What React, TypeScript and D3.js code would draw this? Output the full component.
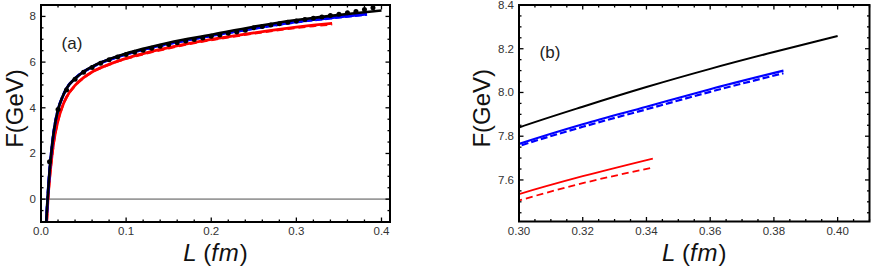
import React from 'react';
import * as d3 from 'd3';

// curves (L in fm, F in GeV)
const blackL = [0.0055, 0.006, 0.007, 0.008, 0.009, 0.01, 0.012, 0.015, 0.02, 0.025, 0.03, 0.04, 0.05, 0.06, 0.07, 0.08, 0.1, 0.12, 0.15, 0.2, 0.25, 0.3, 0.32, 0.34, 0.36, 0.38, 0.4];
const blackF = [-1.5, -1.15, -0.45, 0.15, 0.7, 1.2, 2.0, 2.95, 3.92, 4.45, 4.85, 5.28, 5.58, 5.8, 5.98, 6.13, 6.38, 6.58, 6.85, 7.2, 7.55, 7.84, 7.935, 8.025, 8.108, 8.185, 8.258];

const blueL = [0.0055, 0.006, 0.007, 0.008, 0.009, 0.01, 0.012, 0.015, 0.02, 0.025, 0.03, 0.04, 0.05, 0.06, 0.07, 0.08, 0.1, 0.12, 0.15, 0.2, 0.25, 0.3, 0.32, 0.34, 0.36, 0.383];
const blueF = [-1.5, -1.15, -0.45, 0.15, 0.7, 1.2, 2.0, 2.95, 3.92, 4.45, 4.85, 5.28, 5.58, 5.79, 5.97, 6.11, 6.35, 6.55, 6.81, 7.16, 7.48, 7.765, 7.855, 7.935, 8.015, 8.1];
const blueDashF = [-1.5, -1.15, -0.45, 0.15, 0.7, 1.2, 2.0, 2.95, 3.92, 4.45, 4.85, 5.28, 5.58, 5.785, 5.965, 6.105, 6.343, 6.543, 6.8, 7.15, 7.47, 7.755, 7.843, 7.923, 8.003, 8.088];

const redL = [0.0055, 0.006, 0.007, 0.008, 0.009, 0.01, 0.012, 0.015, 0.02, 0.025, 0.03, 0.04, 0.05, 0.06, 0.08, 0.1, 0.12, 0.15, 0.2, 0.25, 0.3, 0.32, 0.342];
const redF = [-1.9, -1.5, -0.8, -0.15, 0.4, 0.85, 1.6, 2.5, 3.45, 4.05, 4.47, 4.98, 5.32, 5.57, 5.9, 6.16, 6.37, 6.63, 6.99, 7.28, 7.535, 7.617, 7.698];
const redDashF = [-1.91, -1.51, -0.81, -0.16, 0.39, 0.84, 1.59, 2.49, 3.44, 4.04, 4.46, 4.97, 5.31, 5.56, 5.89, 6.15, 6.35, 6.61, 6.97, 7.255, 7.506, 7.585, 7.657];

// data points
const dotL = [0.01, 0.02, 0.03, 0.04, 0.05, 0.06, 0.07, 0.08, 0.09, 0.1, 0.11, 0.12, 0.13, 0.14, 0.15, 0.16, 0.17, 0.18, 0.19, 0.2, 0.21, 0.22, 0.23, 0.24, 0.25, 0.26, 0.27, 0.28, 0.29, 0.3, 0.31, 0.32, 0.33, 0.34, 0.35, 0.36, 0.37, 0.38, 0.39];
const dotF = [1.64, 3.93, 4.78, 5.25, 5.56, 5.76, 5.95, 6.1, 6.22, 6.33, 6.43, 6.52, 6.61, 6.69, 6.77, 6.85, 6.92, 6.99, 7.06, 7.13, 7.19, 7.26, 7.32, 7.39, 7.5, 7.56, 7.62, 7.68, 7.74, 7.8, 7.86, 7.92, 7.98, 8.04, 8.1, 8.16, 8.22, 8.3, 8.38];

const ticksA_x = [0, 0.1, 0.2, 0.3, 0.4];
const ticksA_y = [0, 2, 4, 6, 8];
const ticksB_x = [0.3, 0.32, 0.34, 0.36, 0.38, 0.4];
const ticksB_y = [7.6, 7.8, 8.0, 8.2, 8.4];

const FONT = "'Liberation Sans', Arial, sans-serif";

type Series = { L: number[]; F: number[]; color: string; width: number; dash?: string };

interface PanelProps {
    id: string;
    box: { left: number; right: number; top: number; bottom: number };
    xDomain: [number, number];
    yDomain: [number, number];
    xMajor: number[];
    yMajor: number[];
    xMinorStep: number;
    yMinorStep: number;
    xFmt: string;
    yFmt: string;
    series: Series[];
    dots?: { L: number[]; F: number[] };
    zeroLine?: boolean;
    tag: string;
    tagPos: [number, number];
    yLabelX: number;
}

const Panel: React.FC<PanelProps> = (p) => {
    const { left, right, top, bottom } = p.box;
    const x = d3.scaleLinear().domain(p.xDomain).range([left, right]);
    const y = d3.scaleLinear().domain(p.yDomain).range([bottom, top]);
    const xf = d3.format(p.xFmt);
    const yf = d3.format(p.yFmt);

    const minorX = d3.range(Math.ceil(p.xDomain[0] / p.xMinorStep - 1e-6), Math.floor(p.xDomain[1] / p.xMinorStep + 1e-6) + 1)
        .map(i => i * p.xMinorStep)
        .filter(v => !p.xMajor.some(m => Math.abs(m - v) < 1e-6));
    const minorY = d3.range(Math.ceil(p.yDomain[0] / p.yMinorStep - 1e-6), Math.floor(p.yDomain[1] / p.yMinorStep + 1e-6) + 1)
        .map(i => i * p.yMinorStep)
        .filter(v => !p.yMajor.some(m => Math.abs(m - v) < 1e-6));

    const line = (L: number[], F: number[]) =>
        d3.line<number>()
            .x((_, i) => x(L[i]))
            .y(d => y(d))
            .curve(d3.curveMonotoneX)(F) ?? '';

    const tickLines: React.ReactNode[] = [];
    const addX = (v: number, len: number, k: string) => {
        tickLines.push(<line key={`xb${k}`} x1={x(v)} x2={x(v)} y1={bottom} y2={bottom - len} />);
        tickLines.push(<line key={`xt${k}`} x1={x(v)} x2={x(v)} y1={top} y2={top + len} />);
    };
    const addY = (v: number, len: number, k: string) => {
        tickLines.push(<line key={`yl${k}`} x1={left} x2={left + len} y1={y(v)} y2={y(v)} />);
        tickLines.push(<line key={`yr${k}`} x1={right} x2={right - len} y1={y(v)} y2={y(v)} />);
    };
    p.xMajor.forEach((v, i) => addX(v, 4.5, `M${i}`));
    minorX.forEach((v, i) => addX(v, 2.5, `m${i}`));
    p.yMajor.forEach((v, i) => addY(v, 4.5, `M${i}`));
    minorY.forEach((v, i) => addY(v, 2.5, `m${i}`));

    const cx = (left + right) / 2;
    const cy = (top + bottom) / 2;

    return (
        <g>
            <defs>
                <clipPath id={`clip-${p.id}`}>
                    <rect x={left} y={top} width={right - left} height={bottom - top} />
                </clipPath>
            </defs>
            <g clipPath={`url(#clip-${p.id})`}>
                {p.zeroLine && (
                    <line x1={left} x2={right} y1={y(0)} y2={y(0)} stroke="#9a9a9a" strokeWidth={1.6} />
                )}
                {p.series.map((s, i) => (
                    <path key={i} d={line(s.L, s.F)} fill="none" stroke={s.color}
                        strokeWidth={s.width} strokeDasharray={s.dash} />
                ))}
                {p.dots && p.dots.L.map((l, i) => (
                    <circle key={i} cx={x(l)} cy={y(p.dots!.F[i])} r={2.5} fill="#000" />
                ))}
            </g>
            <g stroke="#000" strokeWidth={1.3}>{tickLines}</g>
            <rect x={left} y={top} width={right - left} height={bottom - top}
                fill="none" stroke="#000" strokeWidth={2} />
            <g fontFamily={FONT} fontSize={11.5} fill="#333">
                {p.xMajor.map((v, i) => (
                    <text key={i} x={x(v)} y={bottom + 13} textAnchor="middle">{xf(v)}</text>
                ))}
                {p.yMajor.map((v, i) => (
                    <text key={i} x={left - 5} y={y(v)} dy="0.35em" textAnchor="end">{yf(v)}</text>
                ))}
            </g>
            <text x={p.tagPos[0]} y={p.tagPos[1]} fontFamily={FONT} fontSize={17} fill="#222"
                textAnchor="middle">{p.tag}</text>
            <text transform={`translate(${p.yLabelX},${cy - 5}) rotate(-90)`} textAnchor="middle"
                dy="0.35em" fontFamily={FONT} fontSize={24} fill="#111">F(GeV)</text>
            <text x={cx} y={261} textAnchor="middle" fontFamily={FONT} fontSize={24} fill="#111">
                <tspan fontStyle="italic">L</tspan>
                <tspan> (</tspan>
                <tspan fontStyle="italic" letterSpacing={1}>fm</tspan>
                <tspan>)</tspan>
            </text>
        </g>
    );
};

const App: React.FC = () => {
    const seriesA: Series[] = [
        { L: redL, F: redDashF, color: '#ff0000', width: 2.5, dash: '7,4' },
        { L: redL, F: redF, color: '#ff0000', width: 2.8 },
        { L: blueL, F: blueDashF, color: '#0000ff', width: 2.8, dash: '7,3' },
        { L: blueL, F: blueF, color: '#0000ff', width: 2.8 },
        { L: blackL, F: blackF, color: '#000000', width: 2.6 },
    ];
    const seriesB: Series[] = [
        { L: redL, F: redDashF, color: '#ff0000', width: 1.8, dash: '7,4' },
        { L: redL, F: redF, color: '#ff0000', width: 1.8 },
        { L: blueL, F: blueDashF, color: '#0000ff', width: 2.2, dash: '7,3' },
        { L: blueL, F: blueF, color: '#0000ff', width: 2.2 },
        { L: blackL, F: blackF, color: '#000000', width: 2 },
    ];

    return (
        <div style={{ position: 'absolute', left: 0, top: 0 }}>
            <svg width={872} height={271} style={{ display: 'block', background: '#fff' }}>
                <Panel
                    id="a"
                    box={{ left: 41, right: 390, top: 5, bottom: 222 }}
                    xDomain={[0, 0.41]}
                    yDomain={[-1, 8.5]}
                    xMajor={ticksA_x}
                    yMajor={ticksA_y}
                    xMinorStep={0.02}
                    yMinorStep={0.5}
                    xFmt=".1f"
                    yFmt="d"
                    series={seriesA}
                    dots={{ L: dotL, F: dotF }}
                    zeroLine
                    tag="(a)"
                    tagPos={[72, 49]}
                    yLabelX={15}
                />
                <Panel
                    id="b"
                    box={{ left: 519, right: 869.5, top: 5, bottom: 221.5 }}
                    xDomain={[0.3, 0.41]}
                    yDomain={[7.41, 8.4]}
                    xMajor={ticksB_x}
                    yMajor={ticksB_y}
                    xMinorStep={0.005}
                    yMinorStep={0.05}
                    xFmt=".2f"
                    yFmt=".1f"
                    series={seriesB}
                    tag="(b)"
                    tagPos={[550, 58]}
                    yLabelX={482}
                />
            </svg>
        </div>
    );
};

export default App;
